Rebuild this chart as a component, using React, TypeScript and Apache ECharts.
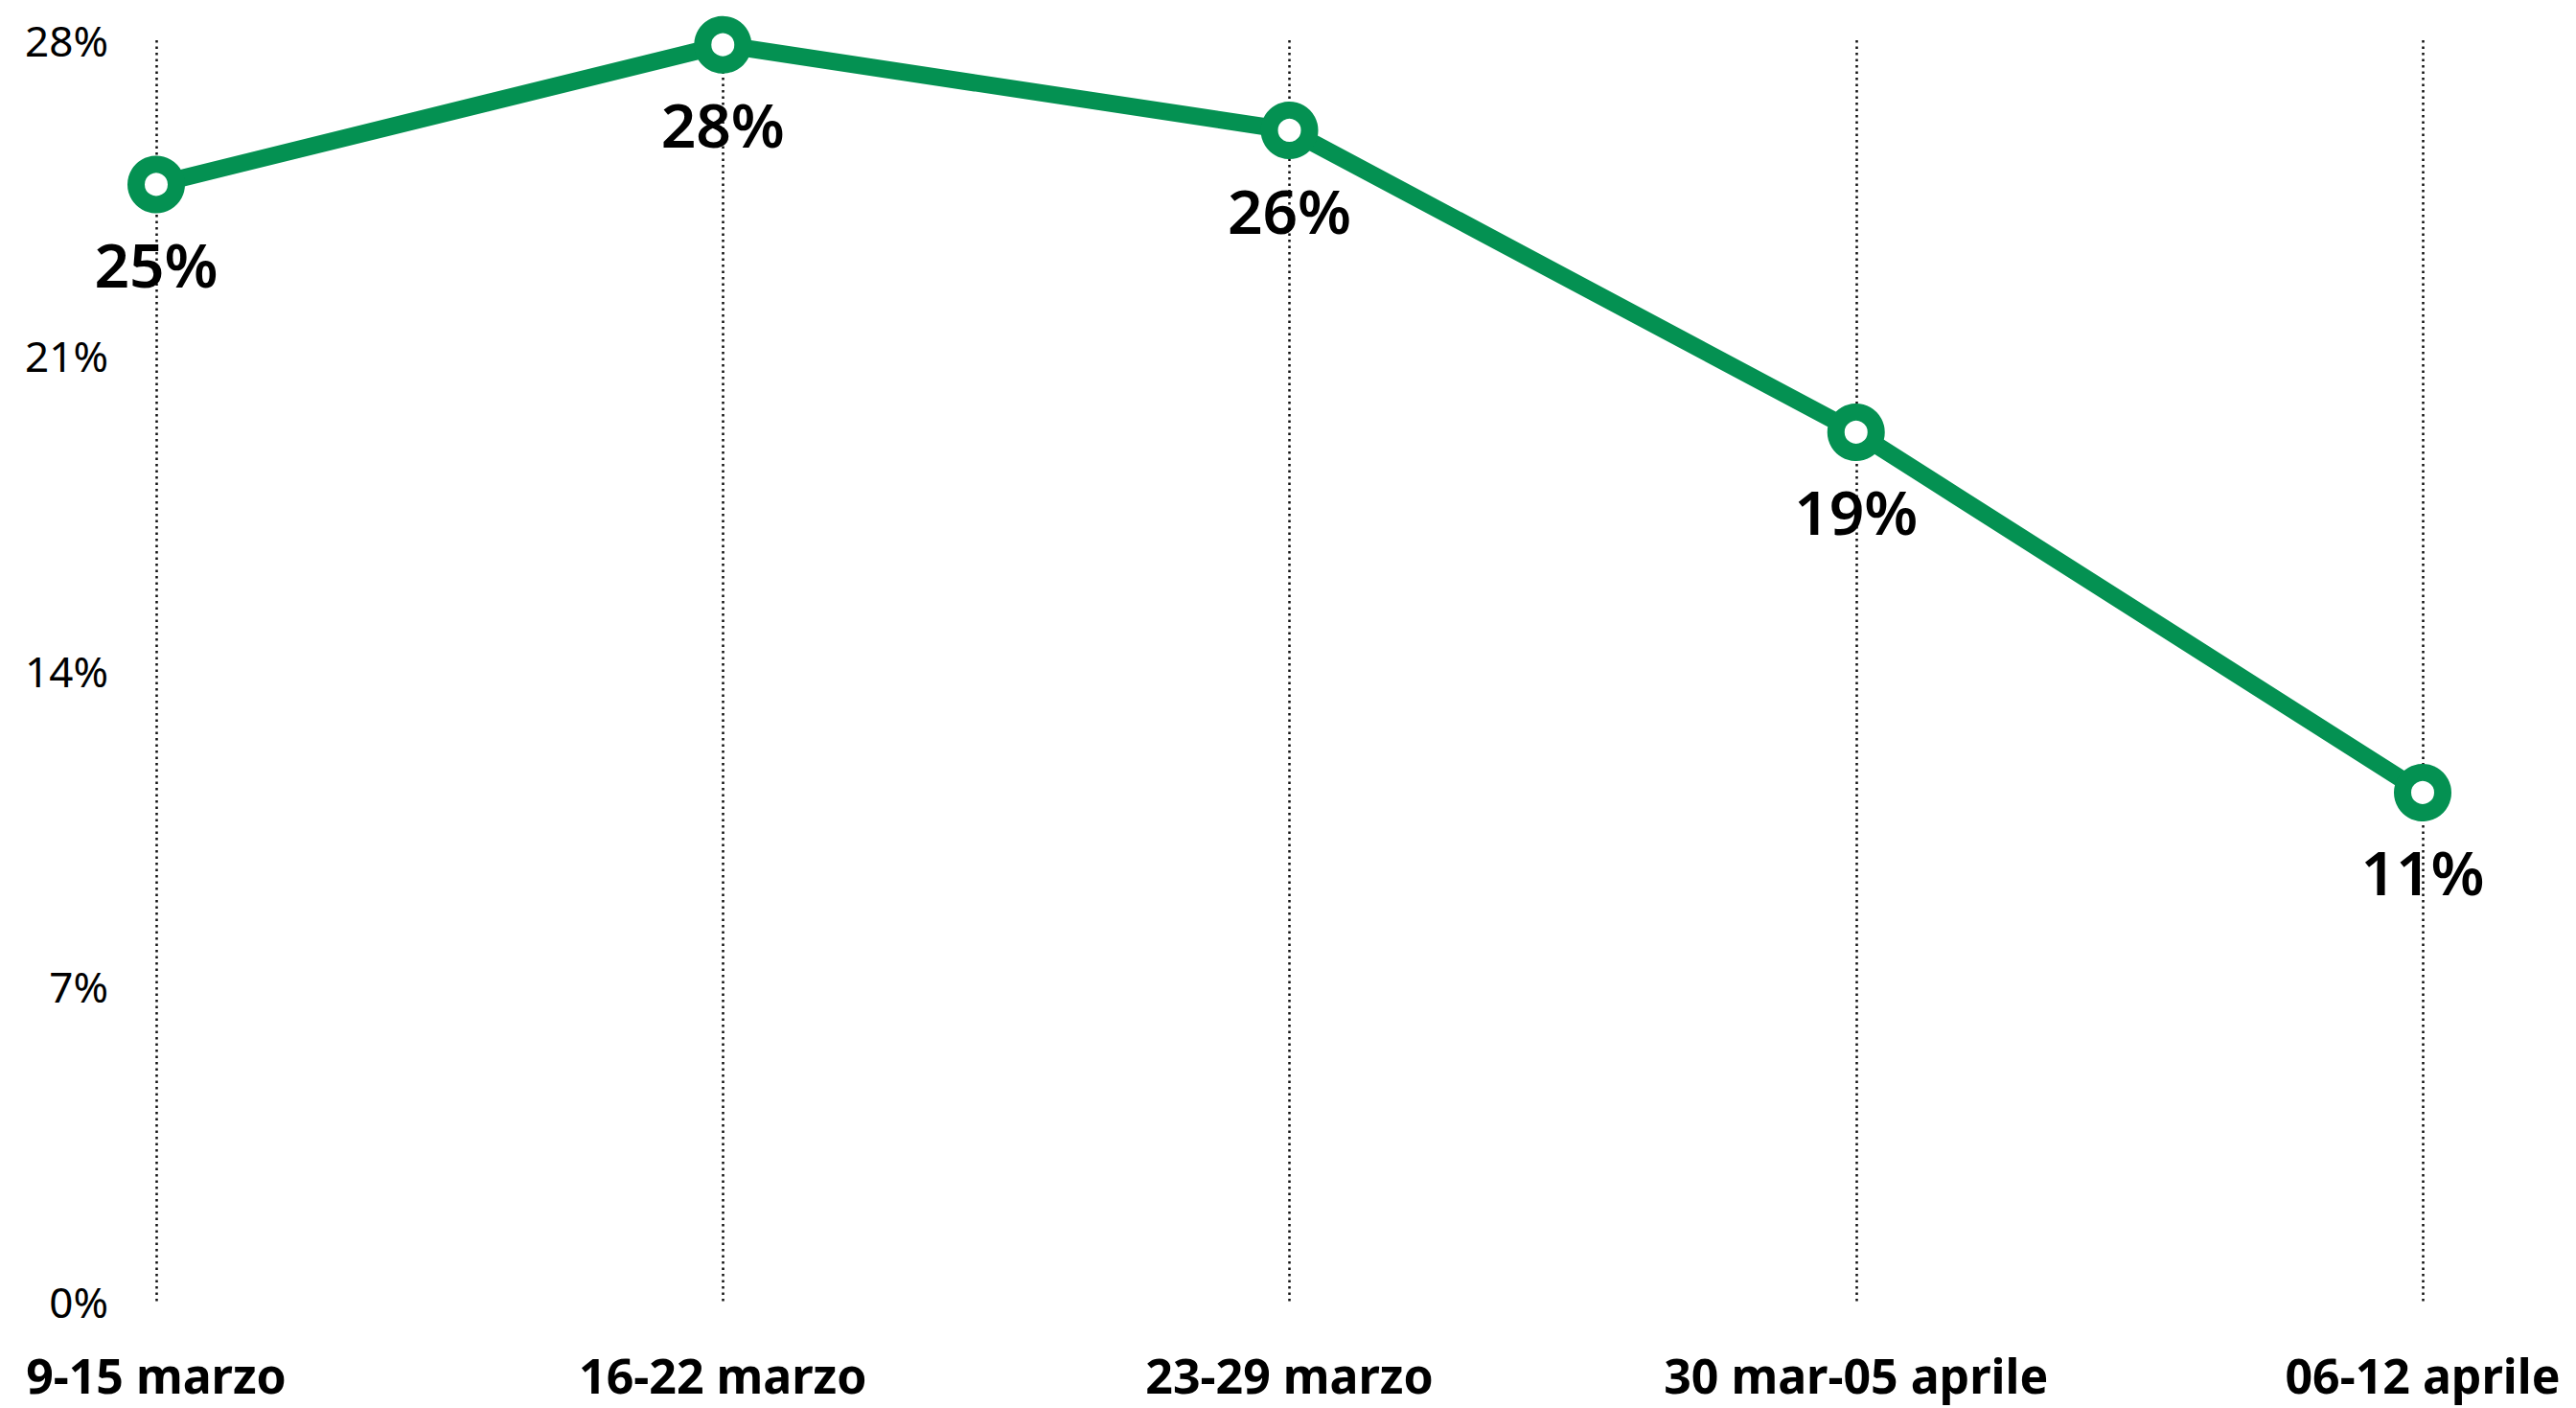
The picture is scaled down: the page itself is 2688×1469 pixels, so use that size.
import React, { useEffect, useRef } from "react";
import * as echarts from "echarts";

const categories = ["9-15 marzo", "16-22 marzo", "23-29 marzo", "30 mar-05 aprile", "06-12 aprile"];
const values = [24.8, 27.9, 26.0, 19.3, 11.3];
const yTicks = [0, 7, 14, 21, 28];

const GREEN = "#049152";
const FONT = "Noto Sans";

export default function App() {
  const ref = useRef<HTMLDivElement>(null);
  useEffect(() => {
    document.body.style.margin = "0";
    const chart = echarts.init(ref.current!, null, { renderer: "svg" });
    chart.setOption({
      animation: false,
      backgroundColor: "#ffffff",
      grid: { left: 163, right: 160, top: 42, bottom: 111, containLabel: false },
      xAxis: {
        type: "category",
        data: categories,
        boundaryGap: false,
        axisLine: { show: false },
        axisTick: { show: false },
        axisLabel: {
          color: "#000",
          fontFamily: FONT,
          fontWeight: "bold",
          fontSize: 50,
          margin: 52,
          interval: 0,
        },
        splitLine: {
          show: true,
          interval: 0,
          lineStyle: { color: "#111", width: 2.5, type: [2.5, 4] },
        },
      },
      yAxis: {
        type: "value",
        min: yTicks[0],
        max: yTicks[yTicks.length - 1],
        interval: 7,
        axisLine: { show: false },
        axisTick: { show: false },
        splitLine: { show: false },
        axisLabel: {
          color: "#000",
          fontFamily: FONT,
          fontSize: 44,
          margin: 50,
          formatter: (v: number) => `${v}%`,
        },
      },
      series: [
        {
          type: "line",
          data: values,
          lineStyle: { color: GREEN, width: 18 },
          itemStyle: { color: "#fff", borderColor: GREEN, borderWidth: 18 },
          symbol: "circle",
          symbolSize: 42,
          showAllSymbol: true,
          z: 3,
          label: {
            show: true,
            position: "bottom",
            distance: 21,
            color: "#000",
            fontFamily: FONT,
            fontSize: 64,
            fontWeight: 600,
            formatter: (p: any) => `${Math.round(p.value)}%`,
          },
        },
      ],
    });
    return () => chart.dispose();
  }, []);
  return (
    <div
      ref={ref}
      style={{ position: "fixed", left: 0, top: 0, width: 2688, height: 1469 }}
    />
  );
}
